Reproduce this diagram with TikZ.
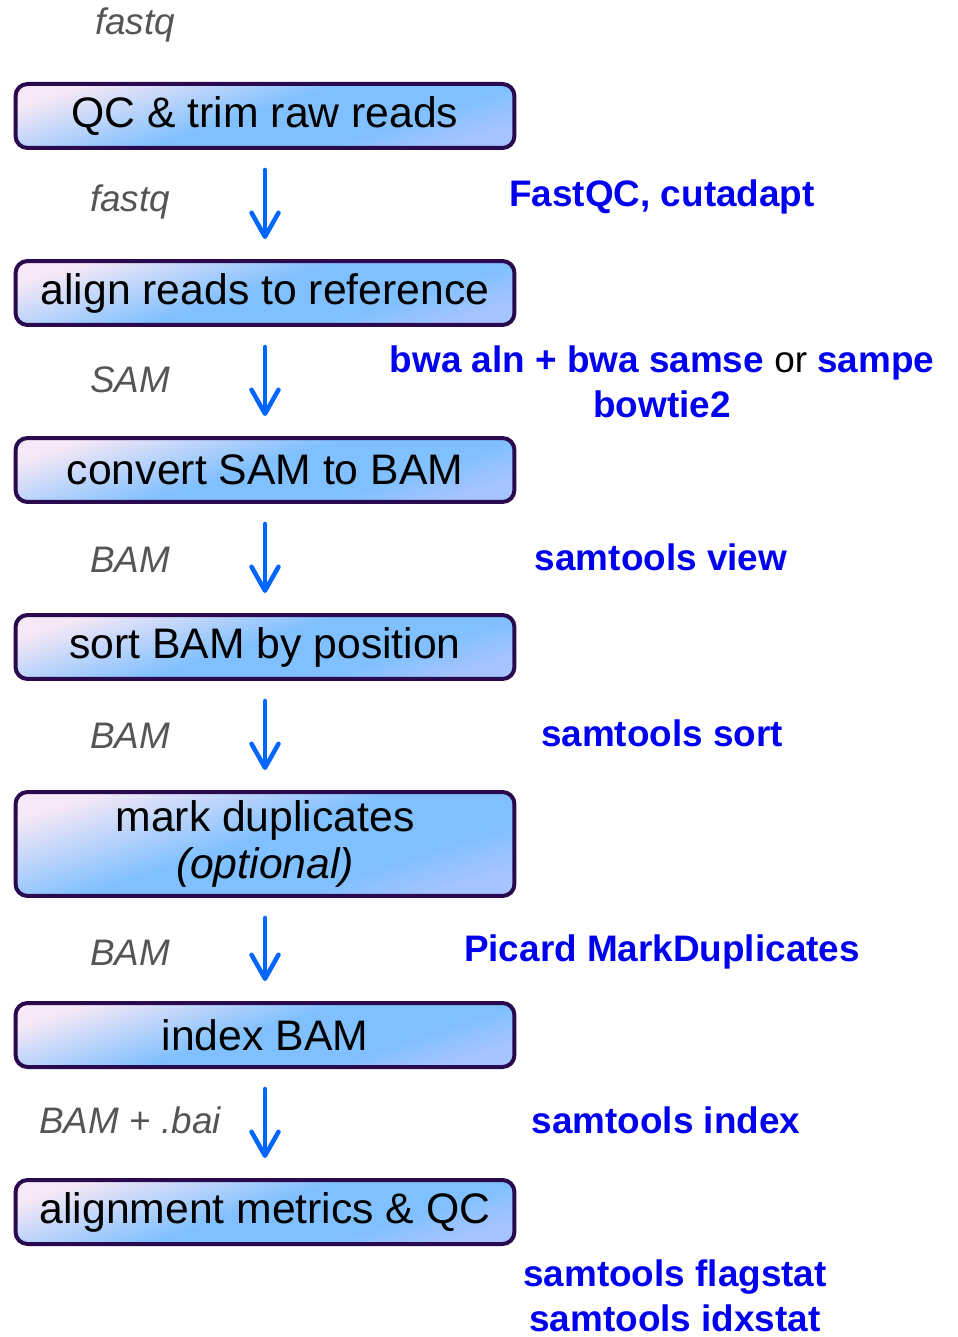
\documentclass[tikz,border=0pt]{standalone}
\usepackage{fontspec}
\setmainfont{Liberation Sans}
\usetikzlibrary{arrows.meta,positioning}
\definecolor{boxedge}{RGB}{42,10,78}
\definecolor{boxtop}{RGB}{246,232,246}
\definecolor{boxmid}{RGB}{128,192,255}
\definecolor{boxbot}{RGB}{166,196,255}
\definecolor{flowblue}{RGB}{0,102,255}
\definecolor{toolblue}{RGB}{0,0,240}
\definecolor{filegrey}{RGB}{85,85,85}
\pgfdeclareverticalshading{stepshade}{100bp}{color(0bp)=(boxbot); color(25bp)=(boxbot);
  color(36bp)=(boxmid); color(52bp)=(boxmid); color(75bp)=(boxtop); color(100bp)=(boxtop)}

\tikzset{
  stepbox/.style={draw=boxedge, line width=0.08cm, rounded corners=0.24cm,
    shading=stepshade, shading angle=18,
    minimum width=9.98cm, minimum height=1.28cm, align=center,
    font=\fontsize{24.3}{26.6}\selectfont},
  filetype/.style={text=filegrey, font=\fontsize{21}{25}\selectfont\itshape},
  tool/.style={text=toolblue, align=center, font=\fontsize{21}{25.5}\selectfont\bfseries},
  flow/.style={draw=flowblue, line width=0.09cm, line cap=round,
    -{Straight Barb[length=0.48cm, width=0.54cm, line width=0.09cm, round]},
    shorten <=0.4cm, shorten >=0.4cm}
}

\begin{document}
\begin{tikzpicture}[x=0.02cm, y=-0.02cm]
    \useasboundingbox (0,0) rectangle (957,1337);
    % pipeline steps
    \node[stepbox] (qc)     at (265,116)  {QC \& trim raw reads};
    \node[stepbox] (align)  at (265,293)  {align reads to reference};
    \node[stepbox] (tobam)  at (265,470)  {convert SAM to BAM};
    \node[stepbox] (sort)   at (265,647)  {sort BAM by position};
    \node[stepbox, minimum height=2.08cm] (markdup) at (265,844)
        {mark duplicates\\\textit{(optional)}};
    \node[stepbox] (index)  at (265,1035) {index BAM};
    \node[stepbox] (stats)  at (265,1212) {alignment metrics \& QC};
    % connectors
    \draw[flow] (qc) -- (align);
    \draw[flow] (align) -- (tobam);
    \draw[flow] (tobam) -- (sort);
    \draw[flow] (sort) -- (markdup);
    \draw[flow] (markdup) -- (index);
    \draw[flow] (index) -- (stats);
    % file formats
    \node[filetype] (rawfmt)   at (135,25)   {fastq};
    \node[filetype] (trimfmt)  at (130,202)  {fastq};
    \node[filetype] (samfmt)   at (130,380)  {SAM};
    \node[filetype] (bamfmt)   at (130,560)  {BAM};
    \node[filetype] (sortfmt)  at (130,736)  {BAM};
    \node[filetype] (dupfmt)   at (130,953)  {BAM};
    \node[filetype] (baifmt)   at (130,1120) {BAM \textup{+} .bai};
    % tools
    \node[tool] (trimtool)  at (662,197)  {FastQC, cutadapt};
    \node[tool] (aligntool) at (662,382)
        {bwa aln + bwa samse {\mdseries\color{black}or} sampe\\bowtie2};
    \node[tool] (viewtool)  at (661,557)  {samtools view};
    \node[tool] (sorttool)  at (662,733)  {samtools sort};
    \node[tool] (duptool)   at (662,952)  {Picard MarkDuplicates};
    \node[tool] (idxtool)   at (666,1120) {samtools index};
    \node[tool] (stattool)  at (675,1296) {samtools flagstat\\samtools idxstat};
\end{tikzpicture}
\end{document}
